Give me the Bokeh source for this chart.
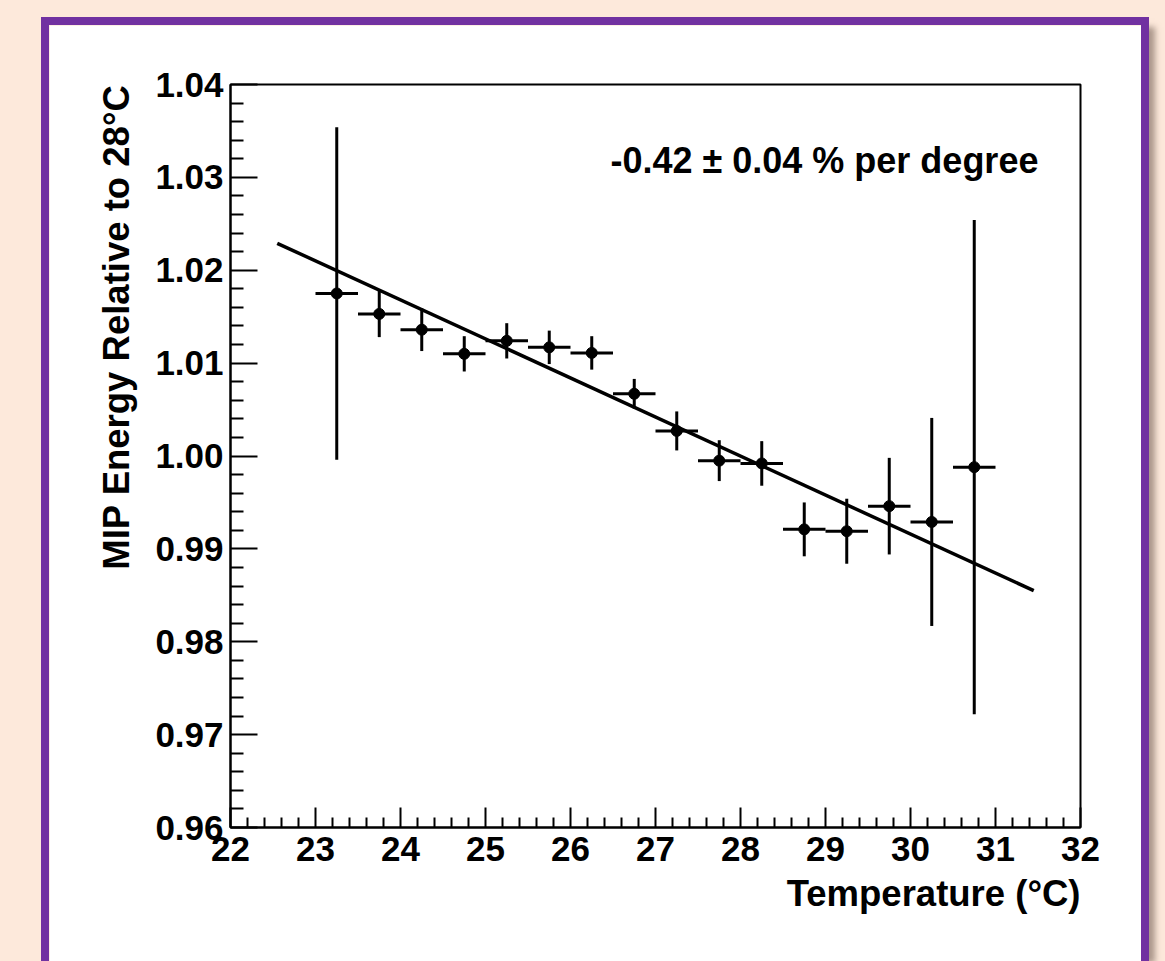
from bokeh.plotting import figure
from bokeh.models import Range1d, FixedTicker, PrintfTickFormatter, Label, ColumnDataSource, Title
from bokeh.embed import file_html
from bokeh.resources import INLINE

# ---- data ----
temperature = [23.25, 23.75, 24.25, 24.75, 25.25, 25.75, 26.25, 26.75,
               27.25, 27.75, 28.25, 28.75, 29.25, 29.75, 30.25, 30.75]
temperature_err = [0.25] * 16
mip_energy = [1.0175, 1.0153, 1.0136, 1.0110, 1.0124, 1.0117, 1.0111, 1.0067,
              1.0027, 0.9995, 0.9992, 0.9921, 0.9919, 0.9946, 0.9929, 0.9988]
mip_energy_err = [0.0179, 0.0025, 0.0023, 0.0019, 0.0019, 0.0018, 0.0018, 0.0016,
                  0.0021, 0.0022, 0.0024, 0.0029, 0.0035, 0.0052, 0.0112, 0.0266]
fit_temperature = [22.55, 31.45]
fit_energy = [1.0229, 0.9855]
x_ticks = [22, 23, 24, 25, 26, 27, 28, 29, 30, 31, 32]
y_ticks = [0.96, 0.97, 0.98, 0.99, 1.00, 1.01, 1.02, 1.03, 1.04]
annotation_text = "-0.42 \u00b1 0.04 % per degree"
x_title = "Temperature (\u00b0C)"
y_title = "MIP Energy Relative to 28\u00b0C"

PEACH = "#FDE9DB"
PURPLE = "#7131A1"
FONT = "Liberation Sans"

src = ColumnDataSource(dict(
    x=temperature, y=mip_energy,
    x0=[t - e for t, e in zip(temperature, temperature_err)],
    x1=[t + e for t, e in zip(temperature, temperature_err)],
    y0=[v - e for v, e in zip(mip_energy, mip_energy_err)],
    y1=[v + e for v, e in zip(mip_energy, mip_energy_err)],
))

p = figure(width=1092, height=936, output_backend="svg", toolbar_location=None,
           x_range=Range1d(22, 32), y_range=Range1d(0.96, 1.04),
           min_border_left=181, min_border_right=61, min_border_top=59, min_border_bottom=134)
p.background_fill_color = "white"
p.border_fill_color = "white"
p.grid.visible = False
p.outline_line_color = "black"
p.outline_line_width = 2

# error bars
p.segment(x0="x0", y0="y", x1="x1", y1="y", source=src, line_color="black", line_width=3)
p.segment(x0="x", y0="y0", x1="x", y1="y1", source=src, line_color="black", line_width=3)
# fit line
p.line(fit_temperature, fit_energy, line_color="black", line_width=3.5)
# points
p.scatter("x", "y", source=src, size=11, color="black")

def minor_between(ticks, n=5):
    out = []
    for a, b in zip(ticks[:-1], ticks[1:]):
        step = (b - a) / n
        out += [a + step * k for k in range(1, n)]
    return out

xa = p.xaxis[0]
xa.ticker = FixedTicker(ticks=x_ticks, minor_ticks=minor_between(x_ticks))
ya = p.yaxis[0]
ya.ticker = FixedTicker(ticks=y_ticks, minor_ticks=minor_between(y_ticks))
ya.formatter = PrintfTickFormatter(format="%.2f")

for ax in (xa, ya):
    ax.axis_line_color = "black"
    ax.axis_line_width = 2
    ax.major_tick_line_color = "black"
    ax.major_tick_line_width = 2
    ax.minor_tick_line_color = "black"
    ax.minor_tick_line_width = 2
    ax.major_tick_out = 0
    ax.minor_tick_out = 0
    ax.major_label_text_font = FONT
    ax.major_label_text_font_style = "bold"
    ax.major_label_text_font_size = "35px"
    ax.major_label_text_color = "black"

xa.major_tick_in = 20
xa.minor_tick_in = 10
xa.major_label_standoff = 9

ya.major_tick_in = 27
ya.minor_tick_in = 13
ya.major_label_standoff = 7

# axis titles, aligned to the far ends of the axes as in the original
p.add_layout(Title(text=x_title, align="right", text_font=FONT, text_font_style="bold",
                   text_font_size="36.5px", text_color="black", standoff=15), "below")
p.add_layout(Title(text=y_title, align="right", text_font=FONT, text_font_style="bold",
                   text_font_size="36.5px", text_color="black", standoff=32), "left")

p.add_layout(Label(x=26.47, y=1.0318, text=annotation_text, text_font=FONT,
                   text_font_style="bold", text_font_size="36px",
                   text_color="black", text_baseline="middle", text_align="left"))

p.styles = {
    "margin-left": "49px",
    "margin-top": "25px",
    "box-shadow": "0 0 0 8px %s, 14px 2px 6px rgba(90,70,60,0.5)" % PURPLE,
}
try:
    from bokeh.models import GlobalInlineStyleSheet
    p.stylesheets = [GlobalInlineStyleSheet(
        css="html, body { background-color: %s; overflow: hidden; }" % PEACH)]
except Exception:
    pass

html = file_html(p, INLINE)
open("out.html", "w").write(html)
